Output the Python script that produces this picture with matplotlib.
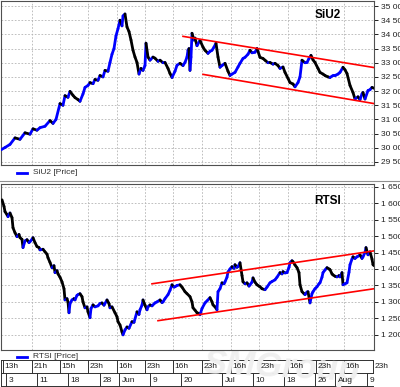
import numpy as np
import matplotlib
matplotlib.use("Agg")
import matplotlib.pyplot as plt
from matplotlib.collections import LineCollection

plt.rcParams['font.family'] = ['Liberation Sans', 'DejaVu Sans']

# --- data (x = bar position along the time axis) ---
siu2_x = [1, 5, 10, 15, 20, 25, 30, 33, 37, 40, 45, 50, 53, 56, 60, 63, 65, 68, 70, 73,
          75, 78, 80, 83, 85, 88, 90, 93, 95, 98, 100, 103, 105, 108, 110, 112, 114, 116, 118, 120,
          122, 123, 125, 127, 129, 131, 133, 135, 137, 139, 141, 143, 145, 146, 148, 150, 153, 155, 158, 160,
          163, 165, 168, 170, 172, 175, 177, 180, 183, 185, 187, 188, 189, 190, 191, 192, 194, 195, 197, 200,
          203, 205, 208, 210, 212, 214, 216, 218, 220, 222, 225, 228, 230, 232, 235, 238, 240, 243, 245, 248,
          250, 252, 255, 257, 260, 263, 265, 268, 270, 273, 275, 278, 280, 283, 285, 288, 290, 293, 295, 298,
          300, 302, 305, 307, 309, 311, 313, 315, 318, 320, 323, 325, 328, 330, 333, 335, 338, 340, 343, 345,
          347, 350, 353, 355, 358, 360, 362, 363, 365, 368, 370, 372, 374]
siu2_y = [29930, 30010, 30120, 30350, 30300, 30530, 30480, 30670, 30620, 30710, 30760, 30960, 30860, 31000, 31560, 31500, 31840, 31780, 31990, 31850,
          31770, 31700, 31640, 31900, 32130, 32200, 32300, 32260, 32410, 32380, 32550, 32500, 32730, 32700, 33010, 33300, 33500, 33950, 34200, 34500,
          34300, 34650, 34720, 34260, 34100, 33800, 33440, 33200, 33010, 32600, 32800, 32730, 32900, 33690, 33200, 33090, 33200, 33160, 33050, 33090,
          33000, 33010, 32800, 32620, 32480, 32700, 32910, 32980, 32900, 33010, 33200, 33440, 33500, 32730, 33200, 34040, 33800, 33870, 33600, 33790,
          33550, 33440, 33330, 33400, 33440, 33550, 33690, 33200, 32840, 32900, 32980, 32700, 32550, 32600, 32660, 32850, 32980, 33150, 33190, 33300,
          33440, 33350, 33370, 33500, 33190, 33150, 33090, 33000, 33010, 32950, 32980, 32900, 32800, 32850, 32660, 32450, 32300, 32250, 32150, 32300,
          32500, 33090, 33000, 33010, 33150, 33260, 33100, 33010, 32800, 32660, 32600, 32550, 32500, 32480, 32550, 32550, 32600, 32660, 32840, 32750,
          32620, 32200, 31950, 31720, 31800, 31700, 31900, 31950, 31720, 32020, 32050, 32130, 32100]

rtsi_x = [2, 4, 5, 7, 8, 10, 12, 13, 15, 17, 19, 20, 22, 23, 25, 27, 29, 30, 32, 33,
          35, 37, 39, 40, 43, 45, 47, 48, 50, 52, 54, 55, 57, 58, 60, 62, 64, 65, 67, 68,
          69, 70, 72, 74, 75, 77, 78, 80, 82, 83, 85, 87, 88, 90, 91, 93, 95, 98, 100, 102,
          104, 107, 109, 110, 112, 115, 117, 118, 120, 122, 123, 125, 127, 129, 132, 134, 137, 139, 140, 142,
          143, 145, 147, 148, 150, 152, 155, 157, 160, 162, 163, 165, 168, 170, 172, 174, 175, 177, 180, 182,
          185, 187, 190, 192, 193, 195, 197, 199, 200, 202, 205, 207, 210, 212, 213, 215, 217, 218, 220, 222,
          224, 225, 227, 228, 230, 232, 234, 235, 237, 238, 240, 242, 243, 245, 247, 249, 250, 252, 253, 255,
          257, 259, 260, 262, 265, 267, 270, 272, 275, 277, 280, 282, 283, 285, 287, 289, 290, 292, 293, 295,
          297, 299, 300, 302, 304, 305, 307, 308, 310, 312, 313, 315, 317, 319, 320, 322, 323, 325, 327, 329,
          330, 332, 333, 335, 337, 339, 340, 342, 343, 345, 347, 349, 350, 352, 353, 355, 357, 359, 360, 362,
          363, 365, 366, 368, 370, 372, 373, 374]
rtsi_y = [1610, 1590, 1574, 1565, 1559, 1570, 1556, 1525, 1510, 1498, 1505, 1495, 1490, 1465, 1485, 1489, 1480, 1483, 1490, 1495,
          1480, 1468, 1465, 1458, 1460, 1452, 1445, 1434, 1420, 1404, 1410, 1389, 1395, 1385, 1375, 1361, 1340, 1306, 1310, 1300,
          1267, 1295, 1306, 1310, 1306, 1320, 1322, 1325, 1316, 1300, 1282, 1285, 1270, 1252, 1280, 1291, 1285, 1288, 1295, 1297,
          1290, 1306, 1295, 1282, 1285, 1267, 1255, 1240, 1230, 1209, 1200, 1215, 1224, 1220, 1240, 1238, 1270, 1262, 1276, 1290,
          1306, 1290, 1276, 1285, 1291, 1288, 1297, 1300, 1306, 1298, 1300, 1310, 1322, 1335, 1352, 1345, 1346, 1350, 1352, 1345,
          1331, 1325, 1316, 1300, 1282, 1275, 1267, 1265, 1261, 1280, 1297, 1303, 1313, 1300, 1291, 1285, 1276, 1331, 1340, 1358,
          1355, 1361, 1375, 1391, 1400, 1407, 1402, 1413, 1405, 1407, 1419, 1380, 1361, 1355, 1358, 1348, 1352, 1360, 1373, 1360,
          1352, 1348, 1346, 1340, 1337, 1345, 1358, 1362, 1367, 1375, 1389, 1385, 1392, 1388, 1389, 1405, 1419, 1425, 1422, 1412,
          1404, 1389, 1352, 1331, 1325, 1322, 1330, 1331, 1297, 1325, 1331, 1340, 1346, 1355, 1358, 1375, 1389, 1397, 1404, 1400,
          1398, 1385, 1382, 1378, 1376, 1380, 1376, 1389, 1352, 1355, 1358, 1390, 1413, 1430, 1437, 1432, 1437, 1440, 1443, 1432,
          1437, 1450, 1465, 1443, 1452, 1430, 1413, 1410]

# trend channels: [x0, x1], [y0, y1]
siu2_upper = ([183, 374], [33930, 32830])
siu2_lower = ([203, 374], [32590, 31560])
rtsi_upper = ([152, 374], [1355, 1455])
rtsi_lower = ([158, 374], [1243, 1340])

siu2_ticks = [29500, 30000, 30500, 31000, 31500, 32000, 32500, 33000, 33500, 34000, 34500, 35000]
rtsi_ticks = [1200, 1250, 1300, 1350, 1400, 1450, 1500, 1550, 1600, 1650]

hour_pos = [3, 32, 60, 88, 117, 145, 173, 202, 231, 259, 288, 316, 344, 373]
hour_lbl = ['13h', '21h', '15h', '23h', '16h', '23h', '16h', '23h', '16h', '23h', '16h', '23h', '16h', '23h']
day_pos = [6, 37, 68, 100, 119, 150, 181, 222, 253, 284, 315, 335, 367]
day_lbl = ['3', '11', '18', '28', 'Jun', '9', '20', 'Jul', '10', '18', '26', 'Aug', '9']

W, H = 400, 387
fig = plt.figure(figsize=(4, 3.87), dpi=100)
fig.patch.set_facecolor('white')


def box(l, t, r, b):
    return [l / W, 1 - b / H, (r - l) / W, (b - t) / H]


def price_line(ax, x, y):
    pts = np.column_stack([x, y])
    segs = np.stack([pts[:-1], pts[1:]], axis=1)
    cols = ['#0000ff' if d >= 0 else 'black' for d in np.diff(y)]
    ax.add_collection(LineCollection(segs, colors=cols, linewidths=2.0, capstyle='round', zorder=3))


def style(ax, ticks, ylim, name):
    ax.set_xlim(1, 374.5)
    ax.set_ylim(*ylim)
    ax.yaxis.tick_right()
    ax.set_yticks(ticks)
    ax.set_yticklabels([f"{t:,}".replace(",", " ") for t in ticks])
    ax.set_xticks(hour_pos[1:-1])
    ax.tick_params(axis='x', length=0, labelbottom=False)
    ax.tick_params(axis='y', direction='out', length=3, width=0.7, pad=1.5,
                   labelsize=6, colors='#202020')
    ax.grid(True, color='#b4b4b4', linestyle=(0, (2, 2)), linewidth=0.6)
    for s in ax.spines.values():
        s.set_color('#505050')
        s.set_linewidth(0.8)
    ax.text(0.875, 0.915 if name == 'SiU2' else 0.9, name, transform=ax.transAxes,
            ha='center', va='center', fontsize=8.5, fontweight='bold')


ax1 = fig.add_axes(box(1, 1, 374.5, 165))
price_line(ax1, siu2_x, siu2_y)
for xs, ys in (siu2_upper, siu2_lower):
    ax1.plot(xs, ys, color='red', lw=1.2, zorder=4)
style(ax1, siu2_ticks, (29394, 35177), 'SiU2')

ax2 = fig.add_axes(box(1, 184, 374.5, 350))
price_line(ax2, rtsi_x, rtsi_y)
for xs, ys in (rtsi_upper, rtsi_lower):
    ax2.plot(xs, ys, color='red', lw=1.2, zorder=4)
style(ax2, rtsi_ticks, (1154, 1658), 'RTSI')

# decoration layer in pixel units (legends, separators, time scale)
deco = fig.add_axes([0, 0, 1, 1], zorder=-1)
deco.set_xlim(0, W)
deco.set_ylim(H, 0)
deco.axis('off')
deco.text(282, 368, 'SMGroup', fontsize=25, style='italic', color='#efefef',
          ha='center', va='center', rotation=-3, fontweight='bold')

deco.plot([0, W], [181, 181], color='#909090', lw=0.8)
for y, lbl in ((173, 'SiU2 [Price]'), (357, 'RTSI [Price]')):
    deco.plot([17, 27], [y, y], color='#0000ff', lw=2)
    deco.text(33, y, lbl, fontsize=6, va='center', color='#303030')

for y in (360, 373, 386):
    deco.plot([0.5, 373], [y, y], color='#303030', lw=0.7)
for x in [1] + hour_pos:
    deco.plot([x, x], [360, 373], color='#303030', lw=0.7)
for x in [1] + day_pos:
    deco.plot([x, x], [373, 386], color='#303030', lw=0.7)
for x, lbl in zip(hour_pos, hour_lbl):
    deco.text(x + 1.5, 367, lbl, fontsize=6, va='center', ha='left', color='#202020')
for x, lbl in zip(day_pos, day_lbl):
    deco.text(x + 2.5, 380, lbl, fontsize=6, va='center', ha='left', color='#202020')

fig.savefig('out.png', dpi=100, facecolor='white')
